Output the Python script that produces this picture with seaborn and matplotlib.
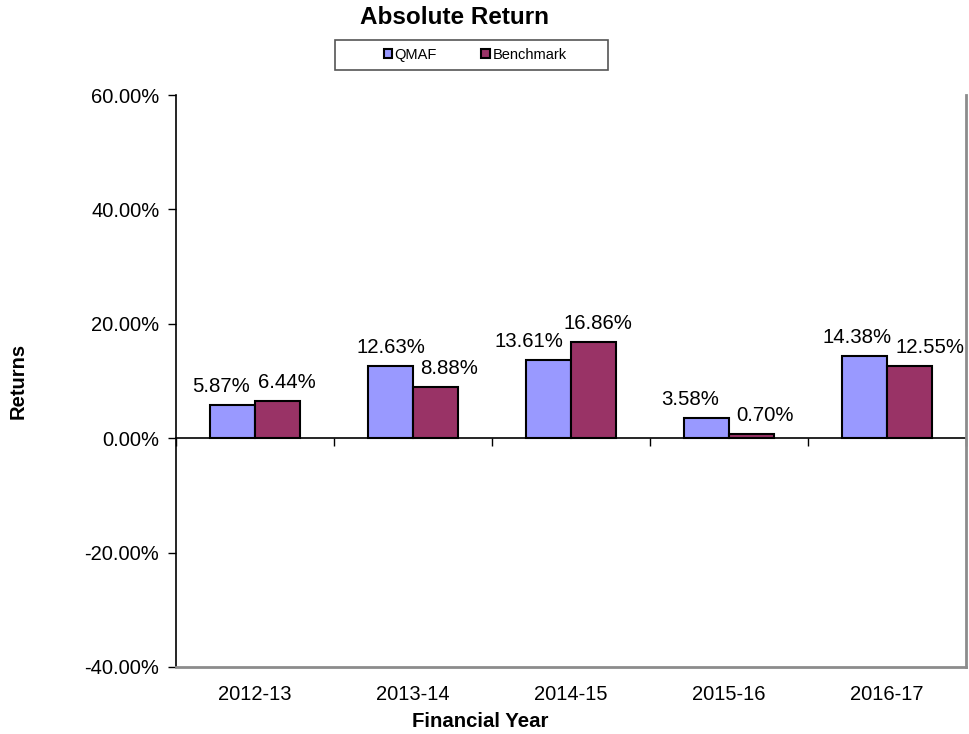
import matplotlib
matplotlib.use("Agg")
import matplotlib.pyplot as plt
from matplotlib.patches import Rectangle
from matplotlib.ticker import PercentFormatter
import seaborn as sns
import pandas as pd

# Annual returns (percent) by financial year
years = ["2012-13", "2013-14", "2014-15", "2015-16", "2016-17"]
qmaf = [5.87, 12.63, 13.61, 3.58, 14.38]
benchmark = [6.44, 8.88, 16.86, 0.70, 12.55]
series_names = ["QMAF", "Benchmark"]
colors = ["#9999FF", "#993366"]
y_ticks = [-40, -20, 0, 20, 40, 60]

# Horizontal nudges (points) so neighbouring value labels don't collide
label_nudge = [
    [-8, 0, -14, -11.5, -5],
    [7, 10, 3, 9.5, 15],
]

df = pd.DataFrame({
    "Financial Year": years * 2,
    "Return": qmaf + benchmark,
    "Series": [series_names[0]] * len(years) + [series_names[1]] * len(years),
})

sns.set_style("white")
plt.rcParams["font.family"] = ["Liberation Sans", "DejaVu Sans"]
plt.rcParams["axes.unicode_minus"] = False
plt.rcParams["text.color"] = "black"
plt.rcParams["axes.labelcolor"] = "black"
plt.rcParams["xtick.color"] = "black"
plt.rcParams["ytick.color"] = "black"

fig = plt.figure(figsize=(9.69, 7.34), dpi=100)
ax = fig.add_axes([176 / 969, 1 - 667 / 734, 790 / 969, (667 - 95) / 734])

sns.barplot(data=df, x="Financial Year", y="Return", hue="Series",
            palette=colors, width=0.57, gap=0, edgecolor="black",
            linewidth=1.5, ax=ax, legend=True, saturation=1)

ax.set_ylim(-40, 60)
ax.set_xlim(-0.5, len(years) - 0.5)
ax.set_yticks(y_ticks)
ax.yaxis.set_major_formatter(PercentFormatter(decimals=2))
ax.tick_params(axis="y", direction="out", length=6, width=1, color="black",
               labelsize=14.5, pad=6, left=True)
ax.tick_params(axis="x", length=0, labelsize=14.5, pad=13)

# Value labels above each bar
pad = 6.5
for container, nudges in zip(ax.containers, label_nudge):
    texts = ax.bar_label(container,
                         labels=[f"{v:.2f}%" for v in container.datavalues],
                         padding=pad, fontsize=14.7, color="black")
    for t, dx in zip(texts, nudges):
        t.xyann = (dx, pad)

# Frame: black left edge, grey right and bottom, no top
ax.spines["top"].set_visible(False)
ax.spines["left"].set_color("black")
ax.spines["left"].set_linewidth(1.2)
for side in ("right", "bottom"):
    ax.spines[side].set_color("#8c8c8c")
    ax.spines[side].set_linewidth(2)

# Zero line with category-boundary ticks
zero_axis = ax.secondary_xaxis(0.4)
zero_axis.set_xticks([i - 0.5 for i in range(len(years) + 1)])
zero_axis.set_xticklabels([])
zero_axis.tick_params(direction="out", length=6, width=1, color="black")
zero_axis.spines["bottom"].set_color("black")
zero_axis.spines["bottom"].set_linewidth(1.2)

ax.set_ylabel("Returns", fontsize=14.5, fontweight="bold")
ax.yaxis.set_label_coords(-0.188, 0.5)
ax.set_xlabel("Financial Year", fontsize=14.7, fontweight="bold")
ax.xaxis.set_label_coords((480 - 176) / 790, -0.078)

fig.text(455 / 969, 1 - 18 / 734, "Absolute Return", ha="center", va="center",
         fontsize=17.5, fontweight="bold")

# Legend in a boxed strip under the title
handles, labels = ax.get_legend_handles_labels()
ax.legend_.remove()
fig.patches.append(Rectangle((335 / 969, 1 - 70 / 734), 273 / 969, 30 / 734,
                             transform=fig.transFigure, fill=False,
                             edgecolor="#555555", linewidth=1.2))
fig.legend(handles, labels, loc="center", bbox_to_anchor=(475 / 969, 1 - 55 / 734),
           ncol=2, frameon=False, fontsize=10.5, handlelength=0.6,
           handleheight=0.6, handletextpad=0.15, columnspacing=3.05)

fig.savefig("out.png", dpi=100)
